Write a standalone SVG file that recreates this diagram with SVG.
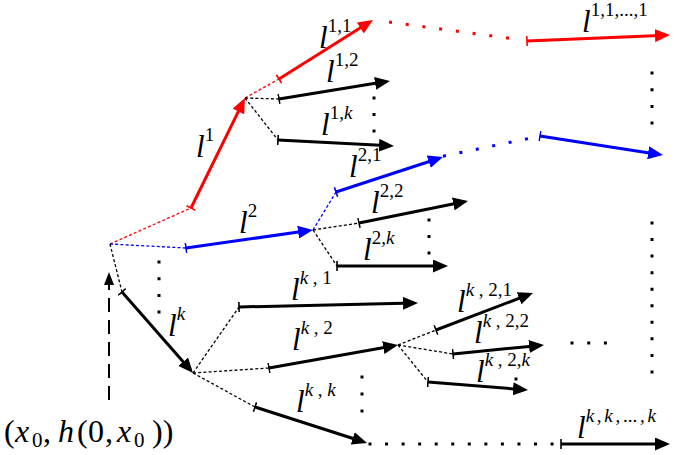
<svg xmlns="http://www.w3.org/2000/svg" width="675" height="455" viewBox="0 0 675 455">
<style>
.a{fill:none;stroke-width:3;stroke-linecap:butt}
.k{stroke:#000}
.r{stroke:#ff0000}
.b{stroke:#0000ff}
.d{fill:none;stroke-width:1.3;stroke-dasharray:3 2.2}
.dots{fill:none;stroke:#000;stroke-width:3}
.lbl{font-family:"Liberation Serif",serif;font-style:italic;font-size:31px;fill:#000}
.sup{font-style:normal;font-size:19px}
.i{font-style:italic}
.m{font-family:"Liberation Serif",serif;font-size:32px;fill:#000}
</style>
<defs>
<marker id="ab" viewBox="0 0 15 13" refX="11" refY="6.5" markerWidth="15" markerHeight="13" markerUnits="userSpaceOnUse" orient="auto"><path d="M0,0 L15,6.5 L0,13 z" fill="#000"/></marker>
<marker id="ar" viewBox="0 0 15 13" refX="11" refY="6.5" markerWidth="15" markerHeight="13" markerUnits="userSpaceOnUse" orient="auto"><path d="M0,0 L15,6.5 L0,13 z" fill="#ff0000"/></marker>
<marker id="au" viewBox="0 0 15 13" refX="11" refY="6.5" markerWidth="15" markerHeight="13" markerUnits="userSpaceOnUse" orient="auto"><path d="M0,0 L15,6.5 L0,13 z" fill="#0000ff"/></marker>
<marker id="ad" viewBox="0 0 13 10" refX="9" refY="5" markerWidth="13" markerHeight="10" markerUnits="userSpaceOnUse" orient="auto"><path d="M0,0 L13,5 L0,10 z" fill="#000"/></marker>
<marker id="tb" viewBox="-1 -6 2 12" refX="0" refY="0" markerWidth="2" markerHeight="12" markerUnits="userSpaceOnUse" orient="auto"><path d="M0,-5 L0,5" stroke="#000" stroke-width="1.6"/></marker>
<marker id="tr" viewBox="-1 -6 2 12" refX="0" refY="0" markerWidth="2" markerHeight="12" markerUnits="userSpaceOnUse" orient="auto"><path d="M0,-5 L0,5" stroke="#ff0000" stroke-width="1.6"/></marker>
<marker id="tu" viewBox="-1 -6 2 12" refX="0" refY="0" markerWidth="2" markerHeight="12" markerUnits="userSpaceOnUse" orient="auto"><path d="M0,-5 L0,5" stroke="#0000ff" stroke-width="1.6"/></marker>
</defs>
<rect width="675" height="455" fill="#fff"/>

<g id="connectors">
<line class="d r" x1="110" y1="244" x2="191" y2="208"/>
<line class="d r" x1="245" y1="98" x2="279" y2="79"/>
<line class="d b" x1="110" y1="244" x2="186" y2="248"/>
<line class="d b" x1="313" y1="230" x2="336" y2="192"/>
<line class="d k" x1="110" y1="244" x2="122" y2="292"/>
<line class="d k" x1="245" y1="98" x2="279" y2="99"/>
<line class="d k" x1="245" y1="98" x2="278" y2="140"/>
<line class="d k" x1="313" y1="230" x2="359" y2="223"/>
<line class="d k" x1="313" y1="230" x2="337" y2="266"/>
<line class="d k" x1="193" y1="373" x2="239" y2="307"/>
<line class="d k" x1="193" y1="373" x2="269" y2="368"/>
<line class="d k" x1="193" y1="373" x2="255" y2="407"/>
<line class="d k" x1="398" y1="345" x2="436" y2="330"/>
<line class="d k" x1="398" y1="345" x2="453" y2="354"/>
<line class="d k" x1="398" y1="345" x2="428" y2="382"/>
<line class="dots" style="stroke:#ff0000;stroke-dasharray:3 13.87" x1="389" y1="22" x2="510" y2="38.4"/>
<line class="dots" style="stroke:#0000ff;stroke-dasharray:3 13.75" x1="443" y1="156.2" x2="528" y2="138.6"/>
<line class="dots" style="stroke-dasharray:3 13.55" x1="368.5" y1="444" x2="555" y2="444"/>
</g>

<g id="start">
<line x1="109" y1="400" x2="109" y2="276" stroke="#000" stroke-width="2" stroke-dasharray="14 8" marker-end="url(#ad)"/>
<text class="m" y="442"><tspan x="4">(</tspan><tspan x="15" class="i">x</tspan><tspan x="32" dy="5" font-size="21">0</tspan><tspan x="43" dy="-5">,</tspan><tspan x="58" class="i">h</tspan><tspan x="77">(</tspan><tspan x="88">0</tspan><tspan x="105">,</tspan><tspan x="117" class="i">x</tspan><tspan x="134" dy="5" font-size="21">0</tspan><tspan x="152" dy="-5">))</tspan></text>
</g>

<g id="l1">
<line class="a r" x1="191" y1="208" x2="243.2" y2="101.6" marker-start="url(#tr)" marker-end="url(#ar)"/>
<text class="lbl" x="196" y="157">l<tspan class="sup" dy="-16">1</tspan></text>
</g>
<g id="l11">
<line class="a r" x1="279" y1="79" x2="369.6" y2="22.1" marker-start="url(#tr)" marker-end="url(#ar)"/>
<text class="lbl" x="319" y="48">l<tspan class="sup" dy="-16">1,1</tspan></text>
</g>
<g id="l111">
<line class="a r" x1="527" y1="41" x2="666" y2="35.2" marker-start="url(#tr)" marker-end="url(#ar)"/>
<text class="lbl" x="582" y="32">l<tspan class="sup" dy="-16">1,1,...,1</tspan></text>
</g>
<g id="l12">
<line class="a k" x1="279" y1="99" x2="386" y2="81.6" marker-start="url(#tb)" marker-end="url(#ab)"/>
<text class="lbl" x="326" y="82">l<tspan class="sup" dy="-16">1,2</tspan></text>
</g>
<g id="l1k">
<line class="a k" x1="278" y1="140" x2="390" y2="145.8" marker-start="url(#tb)" marker-end="url(#ab)"/>
<text class="lbl" x="321" y="135">l<tspan class="sup" dy="-16">1,<tspan class="i">k</tspan></tspan></text>
<line class="dots" style="stroke-dasharray:3 13.5" x1="374" y1="96.5" x2="374" y2="133"/>
</g>
<g id="l2">
<line class="a b" x1="186" y1="248" x2="309" y2="230.6" marker-start="url(#tu)" marker-end="url(#au)"/>
<text class="lbl" x="239" y="233">l<tspan class="sup" dy="-16">2</tspan></text>
</g>
<g id="l21">
<line class="a b" x1="336" y1="192" x2="439.2" y2="158.2" marker-start="url(#tu)" marker-end="url(#au)"/>
<text class="lbl" x="349" y="177">l<tspan class="sup" dy="-16">2,1</tspan></text>
</g>
<g id="l211">
<line class="a b" x1="540" y1="136" x2="659" y2="154.4" marker-start="url(#tu)" marker-end="url(#au)"/>
</g>
<g id="l22">
<line class="a k" x1="359" y1="223" x2="464.1" y2="201.8" marker-start="url(#tb)" marker-end="url(#ab)"/>
<text class="lbl" x="371" y="213">l<tspan class="sup" dy="-16">2,2</tspan></text>
</g>
<g id="l2k">
<line class="a k" x1="337" y1="266" x2="444" y2="266" marker-start="url(#tb)" marker-end="url(#ab)"/>
<text class="lbl" x="363" y="260">l<tspan class="sup" dy="-16">2,<tspan class="i">k</tspan></tspan></text>
<line class="dots" style="stroke-dasharray:3 13.5" x1="429" y1="218.5" x2="429" y2="255"/>
</g>
<g id="lk">
<line class="a k" x1="122" y1="292" x2="190.4" y2="370" marker-start="url(#tb)" marker-end="url(#ab)"/>
<text class="lbl" x="168" y="336">l<tspan class="sup i" dy="-16">k</tspan></text>
<line class="dots" style="stroke-dasharray:3 13.7" x1="159" y1="260.5" x2="159" y2="314"/>
</g>
<g id="lk1">
<line class="a k" x1="239" y1="307" x2="414" y2="303.1" marker-start="url(#tb)" marker-end="url(#ab)"/>
<text class="lbl" x="291" y="300">l<tspan class="sup" dy="-16"><tspan class="i">k</tspan> , 1</tspan></text>
</g>
<g id="lk2">
<line class="a k" x1="269" y1="368" x2="394.1" y2="345.7" marker-start="url(#tb)" marker-end="url(#ab)"/>
<text class="lbl" x="292" y="350">l<tspan class="sup" dy="-16"><tspan class="i">k</tspan> , 2</tspan></text>
</g>
<g id="lkk">
<line class="a k" x1="255" y1="407" x2="363.2" y2="441.8" marker-start="url(#tb)" marker-end="url(#ab)"/>
<text class="lbl" x="296" y="412">l<tspan class="sup" dy="-16"><tspan class="i">k</tspan> , <tspan class="i">k</tspan></tspan></text>
<line class="dots" style="stroke-dasharray:3 14" x1="362" y1="375.5" x2="362" y2="413"/>
</g>
<g id="lkkk">
<line class="a k" x1="561" y1="444" x2="666" y2="444" marker-start="url(#tb)" marker-end="url(#ab)"/>
<text class="lbl" x="577" y="438">l<tspan class="sup" dy="-16" word-spacing="-2"><tspan class="i">k</tspan> , <tspan class="i">k</tspan> , ... , <tspan class="i">k</tspan></tspan></text>
</g>
<g id="lk21">
<line class="a k" x1="436" y1="330" x2="529.3" y2="294.4" marker-start="url(#tb)" marker-end="url(#ab)"/>
<text class="lbl" x="457" y="312">l<tspan class="sup" dy="-16"><tspan class="i">k</tspan> , 2,1</tspan></text>
</g>
<g id="lk22">
<line class="a k" x1="453" y1="354" x2="540" y2="345.4" marker-start="url(#tb)" marker-end="url(#ab)"/>
<text class="lbl" x="474" y="343">l<tspan class="sup" dy="-16"><tspan class="i">k</tspan> , 2,2</tspan></text>
<line class="dots" style="stroke-dasharray:3 13.7" x1="570.5" y1="343" x2="607" y2="343"/>
</g>
<g id="lk2k">
<line class="a k" x1="428" y1="382" x2="524" y2="389.7" marker-start="url(#tb)" marker-end="url(#ab)"/>
<text class="lbl" x="476" y="382">l<tspan class="sup" dy="-16"><tspan class="i">k</tspan> , 2,<tspan class="i">k</tspan></tspan></text>
<rect x="514.5" y="377.5" width="3" height="3" fill="#000"/>
</g>
<g id="right-dots">
<line class="dots" style="stroke-dasharray:3 13.7" x1="652" y1="71.5" x2="652" y2="125"/>
<line class="dots" style="stroke-dasharray:3 13.55" x1="652" y1="221.5" x2="652" y2="374"/>
</g>
</svg>
